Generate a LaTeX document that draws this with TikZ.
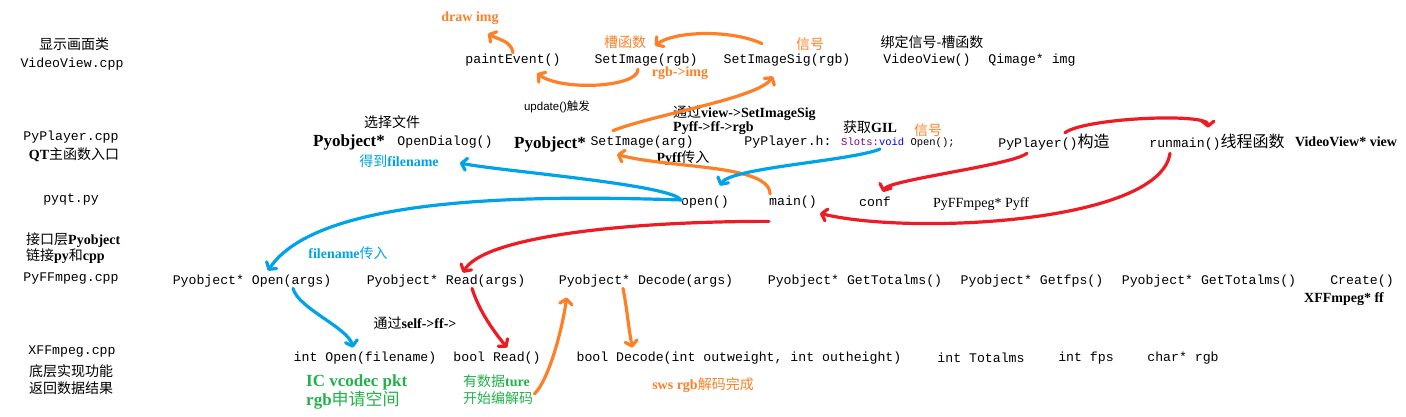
\documentclass[tikz,border=0pt]{standalone}
\usepackage{fontspec}
\setmainfont{Liberation Serif}
\setsansfont{Liberation Sans}
\setmonofont{Liberation Mono}
\newfontfamily\zhfont{Noto Sans CJK SC}
\newcommand{\zh}[1]{{\zhfont\mdseries #1}}
\usetikzlibrary{arrows.meta}
\definecolor{penorange}{RGB}{255,127,39}
\definecolor{penblue}{RGB}{0,162,232}
\definecolor{penred}{RGB}{237,28,36}
\definecolor{pengreen}{RGB}{34,177,76}
\definecolor{slotpurple}{RGB}{128,0,128}

\begin{document}
\begin{tikzpicture}[x=1pt, y=-1pt,
    >={Straight Barb[round,length=5pt,width=12pt]},
    code/.style={font=\ttfamily\fontsize{13.2}{15}\selectfont, inner sep=1pt},
    note/.style={font=\fontsize{14}{16}\selectfont, inner sep=1pt},
    bnote/.style={font=\bfseries\fontsize{14}{16}\selectfont, inner sep=1pt},
    big/.style={font=\bfseries\fontsize{17}{19}\selectfont, inner sep=1pt},
    pen/.style={->, line width=3.2pt, line cap=round}]
    \useasboundingbox (0,0) rectangle (1406,416);

    \node[note] (viewcls) at (74,44) {\zh{显示画面类}};
    \node[code] (viewcpp) at (72,64) {VideoView.cpp};
    \node[code] (playercpp) at (71,137) {PyPlayer.cpp};
    \node[note] (qtmain) at (74,155) {\textbf{QT}\zh{主函数入口}};
    \node[code] (pyqtpy) at (71,199) {pyqt.py};
    \node[note, anchor=west] (glue1) at (25,240) {\zh{接口层}\textbf{Pyobject}};
    \node[note, anchor=west] (glue2) at (25,256) {\zh{链接}\textbf{py}\zh{和}\textbf{cpp}};
    \node[code] (pyffcpp) at (71,279) {PyFFmpeg.cpp};
    \node[code] (xffcpp) at (72,352) {XFFmpeg.cpp};
    \node[note] (xffnote1) at (71,371) {\zh{底层实现功能}};
    \node[note] (xffnote2) at (71,388) {\zh{返回数据结果}};

    \node[code] (paint) at (513,60) {paintEvent()};
    \node[code] (setimg) at (646,60) {SetImage(rgb)};
    \node[code] (setsig) at (787,60) {SetImageSig(rgb)};
    \node[code] (vvctor) at (927,60) {VideoView()};
    \node[code] (qimage) at (1032,60) {Qimage* img};
    \node[note] (bindnote) at (932,42) {\zh{绑定信号-槽函数}};
    \node[bnote, text=penorange] (drawimg) at (470,18) {draw img};
    \node[note, text=penorange] (slotnote) at (625,42) {\zh{槽函数}};
    \node[note, text=penorange] (signote) at (810,44) {\zh{信号}};
    \node[bnote, text=penorange] (rgbimg) at (680,73) {rgb->img};
    \node[font=\sffamily\fontsize{11.5}{13}\selectfont, inner sep=1pt] (update) at (557,107) {update()\zh{触发}};

    \node[note] (choose) at (392,122) {\zh{选择文件}};
    \node[big] (pyobjdlg) at (349,142) {Pyobject*};
    \node[code] (opendlg) at (445,142) {OpenDialog()};
    \node[bnote, text=penblue] (gotfile) at (399,161) {\zh{得到}filename};
    \node[big] (pyobjset) at (550,144) {Pyobject*};
    \node[code] (setarg) at (642,142) {SetImage(arg)};
    \node[bnote, anchor=west] (viaview) at (672,113) {\zh{通过}view->SetImageSig};
    \node[bnote, anchor=west] (pyffrgb) at (672,128) {Pyff->ff->rgb};
    \node[bnote] (pyffin) at (683,158) {Pyff\zh{传入}};
    \node[code] (playerh) at (788,142) {PyPlayer.h:};
    \node[code, anchor=west, font=\ttfamily\fontsize{10.5}{12}\selectfont] (slots) at (840,143) {\textcolor{slotpurple}{Slots:}\textcolor{blue}{void} Open();};
    \node[bnote] (getgil) at (870,127) {\zh{获取}GIL};
    \node[note, text=penorange] (signote2) at (928,130) {\zh{信号}};
    \node[code] (playerctor) at (1054,142) {PyPlayer()\zh{\fontsize{16}{18}\selectfont 构造}};
    \node[code] (runmain) at (1217,142) {runmain()\zh{\fontsize{16}{18}\selectfont 线程函数}};
    \node[bnote] (viewptr) at (1346,142) {VideoView* view};

    \node[code] (open) at (705,202) {open()};
    \node[code] (main) at (793,202) {main()};
    \node[code] (conf) at (875,202) {conf};
    \node[note] (pyffvar) at (981,204) {PyFFmpeg* Pyff};

    \node[code] (pyopen) at (252,281) {Pyobject* Open(args)};
    \node[code] (pyread) at (446,281) {Pyobject* Read(args)};
    \node[code] (pydecode) at (646,281) {Pyobject* Decode(args)};
    \node[code] (pytotal) at (855,281) {Pyobject* GetTotalms()};
    \node[code] (pyfps) at (1032,281) {Pyobject* Getfps()};
    \node[code] (pytotalb) at (1209,281) {Pyobject* GetTotalms()};
    \node[code] (create) at (1362,281) {Create()};
    \node[bnote] (xffvar) at (1344,299) {XFFmpeg* ff};
    \node[bnote, text=penblue] (filein) at (348,253) {filename\zh{传入}};
    \node[bnote] (viaself) at (415,323) {\zh{通过}self->ff->};

    \node[code] (xopen) at (365,358) {int Open(filename)};
    \node[code] (xread) at (497,358) {bool Read()};
    \node[code] (xdecode) at (739,358) {bool Decode(int outweight, int outheight)};
    \node[code] (xtotal) at (981,358) {int Totalms};
    \node[code] (xfps) at (1086,358) {int fps};
    \node[code] (xrgb) at (1183,358) {char* rgb};
    \node[big, text=pengreen, anchor=west] (ctx1) at (305,382) {IC vcodec pkt};
    \node[big, text=pengreen, anchor=west] (ctx2) at (305,400) {rgb\zh{申请空间}};
    \node[bnote, text=pengreen, anchor=west] (hasdata1) at (462,381) {\zh{有数据}ture};
    \node[note, text=pengreen, anchor=west] (hasdata2) at (462,398) {\zh{开始编解码}};
    \node[bnote, text=penorange] (swsdone) at (703,385) {sws rgb\zh{解码完成}};

    \draw[pen, penorange] (paint.north) .. controls +(-2,-12) and +(10,6) .. ([xshift=18pt,yshift=-8pt]drawimg.south);
    \draw[pen, penorange] ([xshift=-8pt,yshift=-2pt]setimg.south) .. controls +(0,18) and +(25,18) .. ([xshift=24pt,yshift=-6pt]paint.south);
    \draw[pen, penorange] ([xshift=-25pt,yshift=9pt]setsig.north) .. controls +(-30,-14) and +(20,-15) .. ([xshift=9pt,yshift=7pt]setimg.north);
    \draw[pen, penorange] ([xshift=-29pt,yshift=4pt]setarg.north) .. controls +(40,-16) and +(-15,22) .. ([xshift=-14pt,yshift=-9pt]setsig.south);
    \draw[pen, penorange] ([xshift=2pt,yshift=8pt]main.west) .. controls +(0,-30) and +(50,14) .. ([xshift=-25pt,yshift=-5pt]setarg.south);
    \draw[pen, penorange] ([yshift=4pt]hasdata2.east) .. controls +(15,-15) and +(-4,30) .. ([xshift=9pt,yshift=-9pt]pydecode.south west);
    \draw[pen, penorange] ([xshift=-23pt]pydecode.south) .. controls +(4,20) and +(-4,-20) .. ([xshift=57pt,yshift=3pt]xdecode.north west);

    \draw[pen, penblue] ([yshift=3pt]open.west) .. controls +(-15,-15) and +(40,8) .. ([xshift=20pt,yshift=-2pt]gotfile.east);
    \draw[pen, penblue] ([xshift=40pt]slots.south west) .. controls +(-30,12) and +(10,-18) .. ([xshift=15pt,yshift=9pt]open.north);
    \draw[pen, penblue] ([xshift=2pt,yshift=2pt]open.west) .. controls +(-150,-5) and +(50,-75) .. ([xshift=16pt,yshift=3pt]pyopen.north);
    \draw[pen, penblue] ([xshift=41pt]pyopen.south) .. controls +(5,20) and +(-5,-20) .. ([xshift=-12pt,yshift=3pt]xopen.north);

    \draw[pen, penred] ([xshift=11pt]playerctor.north) .. controls +(20,-15) and +(0,-15) .. ([xshift=-9pt,yshift=5pt]runmain.north);
    \draw[pen, penred] ([xshift=-27pt,yshift=-2pt]playerctor.south) .. controls +(-15,12) and +(5,-12) .. ([xshift=8pt,yshift=4pt]conf.north);
    \draw[pen, penred] ([xshift=-47pt,yshift=-2pt]runmain.south) .. controls +(-10,70) and +(90,22) .. ([xshift=2pt,yshift=-4pt]main.south east);
    \draw[pen, penred] ([xshift=-24pt,yshift=-12pt]main.south) .. controls +(-150,0) and +(20,-35) .. ([xshift=17pt,yshift=1pt]pyread.north);
    \draw[pen, penred] ([xshift=26pt]pyread.south) .. controls +(8,25) and +(-12,-15) .. ([xshift=10pt,yshift=3pt]xread.north);
\end{tikzpicture}
\end{document}
